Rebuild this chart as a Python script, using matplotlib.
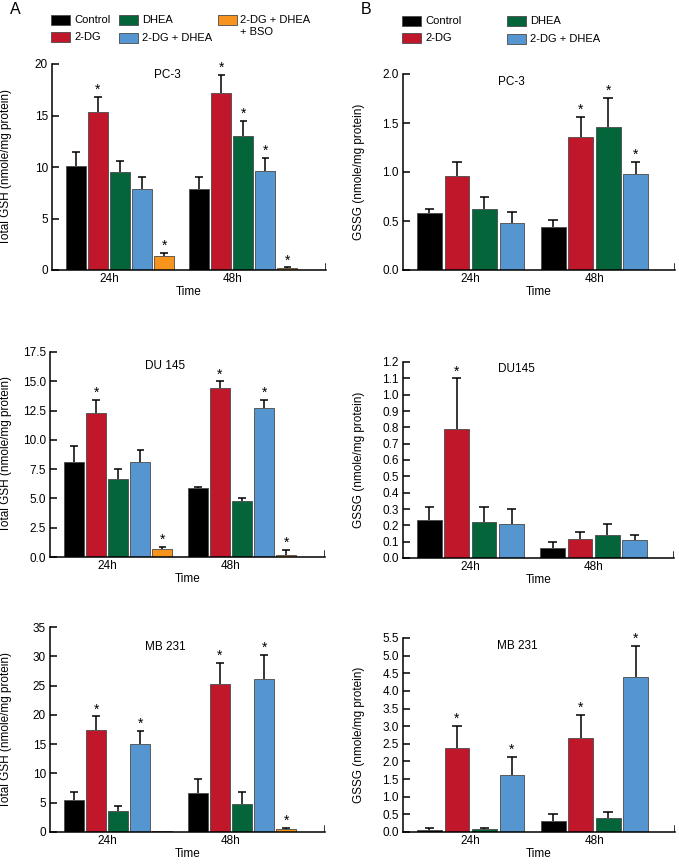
import numpy as np
import matplotlib
matplotlib.use('Agg')
import matplotlib.pyplot as plt
from matplotlib.patches import Rectangle

plt.rcParams['font.family'] = ['Liberation Sans', 'DejaVu Sans']
plt.rcParams['font.size'] = 8.5

W, H = 679, 865

groups = ['Control', '2-DG', 'DHEA', '2-DG + DHEA', '2-DG + DHEA\n+ BSO']
colors = ['#000000', '#c0182a', '#04643a', '#5596d0', '#f7941d']
times = ['24h', '48h']

# Total GSH, order: 24h (5 groups) then 48h (5 groups)
gsh_pc3 = [10.1, 15.35, 9.5, 7.85, 1.4, 7.85, 17.15, 13.0, 9.6, 0.23]
gsh_pc3_err = [11.5, 16.8, 10.6, 9.05, 1.65, 9.05, 18.95, 14.5, 10.9, 0.25]
gsh_pc3_star = [0, 1, 0, 0, 1, 0, 1, 1, 1, 1]

gsh_du145 = [8.14, 12.3, 6.68, 8.14, 0.68, 5.9, 14.4, 4.82, 12.7, 0.2]
gsh_du145_err = [9.45, 13.4, 7.48, 9.15, 0.85, 5.97, 15.0, 5.0, 13.4, 0.63]
gsh_du145_star = [0, 1, 0, 0, 1, 0, 1, 0, 1, 1]

gsh_mb231 = [5.46, 17.5, 3.6, 15.0, 0.1, 6.7, 25.2, 4.7, 26.2, 0.45]
gsh_mb231_err = [6.8, 19.75, 4.5, 17.25, 0.1, 9.0, 28.9, 6.8, 30.2, 0.74]
gsh_mb231_star = [0, 1, 0, 1, 0, 0, 1, 0, 1, 1]

# GSSG, 4 groups per time point
gssg_pc3 = [0.586, 0.96, 0.62, 0.48, 0.443, 1.36, 1.46, 0.98]
gssg_pc3_err = [0.624, 1.107, 0.746, 0.59, 0.514, 1.565, 1.76, 1.107]
gssg_pc3_star = [0, 0, 0, 0, 0, 1, 1, 1]

gssg_du145 = [0.231, 0.79, 0.221, 0.211, 0.061, 0.119, 0.141, 0.113]
gssg_du145_err = [0.313, 1.1, 0.313, 0.301, 0.098, 0.162, 0.21, 0.143]
gssg_du145_star = [0, 1, 0, 0, 0, 0, 0, 0]

gssg_mb231 = [0.047, 2.37, 0.075, 1.62, 0.32, 2.655, 0.395, 4.4]
gssg_mb231_err = [0.113, 3.0, 0.113, 2.12, 0.5, 3.31, 0.565, 5.27]
gssg_mb231_star = [0, 1, 0, 1, 0, 1, 0, 1]

FS = 8.5


def px_axes(fig, left, right, top, bottom):
    return fig.add_axes([left / W, 1 - bottom / H, (right - left) / W, (bottom - top) / H])


def panel(ax, vals, errs, stars, ngroups, gap, xlim, ylim, yticks, yfmt,
          title, title_xy, ylabel, tick_pos):
    n = len(vals)
    x = np.array([i % ngroups + (i // ngroups) * gap for i in range(n)], dtype=float)
    cols = [colors[i % ngroups] for i in range(n)]
    ax.bar(x, vals, width=0.9, color=cols, edgecolor='#4a4a4a', linewidth=0.6, zorder=2)
    cap = 0.17
    for xi, v, e, s in zip(x, vals, errs, stars):
        if e > v:
            ax.vlines(xi, v, e, color='black', lw=1.1, zorder=3)
            ax.hlines(e, xi - cap, xi + cap, color='black', lw=1.1, zorder=3)
        if s:
            ax.annotate('*', (xi, max(v, e)), xytext=(0, 0), textcoords='offset points',
                        ha='center', va='bottom', fontsize=10)
    ax.set_xlim(*xlim)
    ax.set_ylim(*ylim)
    ax.set_yticks(yticks)
    ax.set_yticklabels([yfmt.format(t) for t in yticks])
    ax.set_xticks(tick_pos)
    ax.set_xticklabels(times)
    ax.spines['top'].set_visible(False)
    ax.spines['right'].set_visible(False)
    for sp in ('left', 'bottom'):
        ax.spines[sp].set_linewidth(1.1)
    ax.tick_params(axis='y', direction='in', length=5, width=1.1, pad=3, labelsize=FS)
    ax.tick_params(axis='x', length=0, pad=2, labelsize=FS)
    ax.axvline(xlim[1], ymax=0.03, color='black', lw=1.1)
    ax.set_xlabel('Time', fontsize=FS, labelpad=1)
    ax.set_ylabel(ylabel, fontsize=FS)
    ax.text(title_xy[0], title_xy[1], title, transform=ax.transAxes,
            ha='center', va='center', fontsize=FS)


fig = plt.figure(figsize=(W / 100, H / 100), dpi=100)

xa = (-1.09, 11.36)
xb = (-0.96, 8.93)
ta = [1.5, 7.1]
tb = [1.5, 6.0]

ax = px_axes(fig, 52, 326, 64, 270)
panel(ax, gsh_pc3, gsh_pc3_err, gsh_pc3_star, 5, 5.6, xa, (0, 20), [0, 5, 10, 15, 20], '{:.0f}',
      'PC-3', (0.42, 0.945), 'Total GSH (nmole/mg protein)', ta)
ax.yaxis.set_label_coords(-0.146, 0.5)

ax = px_axes(fig, 403, 675, 74, 270)
panel(ax, gssg_pc3, gssg_pc3_err, gssg_pc3_star, 4, 4.5, xb, (0, 2), [0, 0.5, 1.0, 1.5, 2.0], '{:.1f}',
      'PC-3', (0.40, 0.96), 'GSSG (nmole/mg protein)', tb)
ax.yaxis.set_label_coords(-0.14, 0.5)

ax = px_axes(fig, 50, 325, 352, 557)
panel(ax, gsh_du145, gsh_du145_err, gsh_du145_star, 5, 5.6, xa, (0, 17.5),
      [0, 2.5, 5, 7.5, 10, 12.5, 15, 17.5], '{:.1f}',
      'DU 145', (0.42, 0.93), 'Total GSH (nmole/mg protein)', ta)
ax.yaxis.set_label_coords(-0.138, 0.5)

ax = px_axes(fig, 403, 674, 362, 558)
panel(ax, gssg_du145, gssg_du145_err, gssg_du145_star, 4, 4.5, xb, (0, 1.2),
      np.round(np.arange(0, 1.21, 0.1), 1), '{:.1f}',
      'DU145', (0.42, 0.965), 'GSSG (nmole/mg protein)', tb)
ax.yaxis.set_label_coords(-0.14, 0.5)

ax = px_axes(fig, 50, 325, 627, 832)
panel(ax, gsh_mb231, gsh_mb231_err, gsh_mb231_star, 5, 5.6, xa, (0, 35),
      [0, 5, 10, 15, 20, 25, 30, 35], '{:.0f}',
      'MB 231', (0.42, 0.9), 'Total GSH (nmole/mg protein)', ta)
ax.yaxis.set_label_coords(-0.138, 0.5)

ax = px_axes(fig, 403, 675, 638, 832)
panel(ax, gssg_mb231, gssg_mb231_err, gssg_mb231_star, 4, 4.5, xb, (0, 5.5),
      np.round(np.arange(0, 5.51, 0.5), 1), '{:.1f}',
      'MB 231', (0.42, 0.96), 'GSSG (nmole/mg protein)', tb)
ax.yaxis.set_label_coords(-0.14, 0.5)


def legend_item(x, y, color, label):
    fig.patches.append(Rectangle((x / W, 1 - (y + 10) / H), 19 / W, 10 / H,
                                 transform=fig.transFigure, facecolor=color,
                                 edgecolor='#4a4a4a', linewidth=0.6))
    fig.text((x + 23) / W, 1 - (y + 5) / H, label, ha='left', va='center', fontsize=8)


fig.text(10 / W, 1 - 10 / H, 'A', fontsize=11.5, ha='left', va='center')
fig.text(361 / W, 1 - 10 / H, 'B', fontsize=11.5, ha='left', va='center')

legend_item(51, 15, colors[0], groups[0])
legend_item(51, 32, colors[1], groups[1])
legend_item(119, 15, colors[2], groups[2])
legend_item(119, 33, colors[3], groups[3])
fig.patches.append(Rectangle((218 / W, 1 - 25 / H), 19 / W, 10 / H, transform=fig.transFigure,
                             facecolor=colors[4], edgecolor='#4a4a4a', linewidth=0.6))
fig.text(240 / W, 1 - 20 / H, '2-DG + DHEA', ha='left', va='center', fontsize=8)
fig.text(240 / W, 1 - 32 / H, '+ BSO', ha='left', va='center', fontsize=8)

legend_item(402, 16, colors[0], groups[0])
legend_item(402, 33, colors[1], groups[1])
legend_item(507, 16, colors[2], groups[2])
legend_item(507, 34, colors[3], groups[3])

fig.savefig('out.png', dpi=100)
